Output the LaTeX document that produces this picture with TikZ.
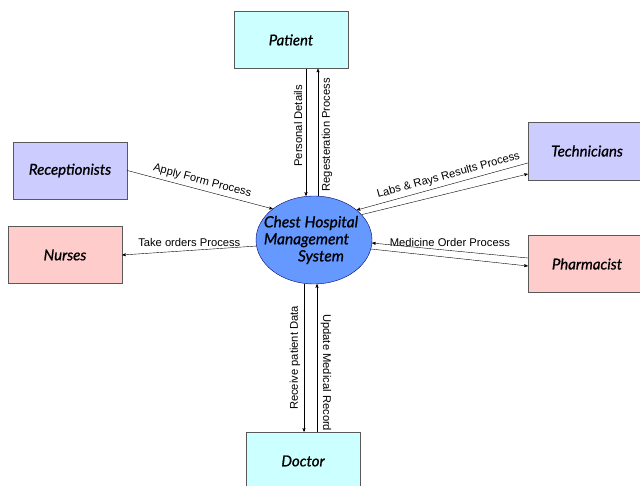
\documentclass[tikz,border=0pt]{standalone}
\usepackage{fontspec}
\setmainfont{Liberation Sans}
\newfontfamily\boxfont{Lato}[FakeBold=0.9]
\usetikzlibrary{arrows, shapes.geometric, shadows}
\definecolor{patientcyan}{HTML}{CCFFFF}
\definecolor{staffblue}{HTML}{CCCCFF}
\definecolor{staffpink}{HTML}{FFCCCC}
\definecolor{systemblue}{HTML}{6699FF}
\tikzset{
->, % every flow is directed
>=stealth', % small pointed heads
line width=0.6pt,
entity/.style={draw=gray!70!black, line width=0.5pt, minimum width=114pt, minimum height=57pt,
  font=\boxfont\itshape\fontsize{15}{17}\selectfont,
  drop shadow={shadow xshift=1pt, shadow yshift=-1pt, opacity=0.35}}, % external entities
system/.style={ellipse, draw=blue!40!black, fill=systemblue, minimum width=116pt, minimum height=88pt, inner sep=0pt}, % the process
flow/.style={font=\fontsize{11.2}{13}\selectfont, inner sep=3.5pt}, % labels on the flows
}

\begin{document}
\begin{tikzpicture}[x=1pt, y=-1pt]
\useasboundingbox (0,0) rectangle (640,486);
\node[entity, fill=patientcyan] (patient) at (291,40) {Patient};
\node[entity, fill=staffblue] (receptionists) at (70,170.5) {Receptionists};
\node[entity, fill=staffpink] (nurses) at (65,255) {Nurses};
\node[entity, fill=staffblue, minimum width=118pt, minimum height=58pt] (technicians) at (587,151) {Technicians};
\node[entity, fill=staffpink, minimum width=118pt] (pharmacist) at (587,264) {Pharmacist};
\node[entity, fill=patientcyan, minimum height=58pt] (doctor) at (303,461) {Doctor};
\node[system, label={[font=\boxfont\itshape\fontsize{15.5}{17}\selectfont, align=left, xshift=-3pt]center:Chest Hospital\\Management\\\hspace*{2.2em}System}] (chms) at (314,240) {};
\draw ([xshift=-8pt]chms.north |- patient.south) -- node[flow, rotate=90, anchor=south, pos=0.45] {Personal Details} ([xshift=-8pt]chms.north);
\draw ([xshift=4pt]chms.north) -- node[flow, rotate=90, anchor=north, pos=0.48] {Regesteration Process} ([xshift=4pt]chms.north |- patient.south);
\draw (receptionists.east) -- node[flow, sloped, above] {Apply Form Process} (chms.143);
\draw (chms.186) -- node[flow, above] {Take orders Process} (nurses.east);
\draw ([yshift=-12pt]technicians.west) -- node[flow, sloped, above, pos=0.45] {Labs \& Rays Results Process} (chms.35);
\draw (chms.28) -- ([yshift=-23pt]technicians.west);
\draw ([yshift=6pt]pharmacist.west) -- node[flow, above] {Medicine Order Process} (chms.-3);
\draw (chms.-9) -- ([yshift=-2pt]pharmacist.west);
\draw ([xshift=-10pt]chms.south) -- node[flow, rotate=90, anchor=south] {Receive patient Data} ([xshift=-10pt]chms.south |- doctor.north);
\draw ([xshift=3pt]chms.south |- doctor.north) -- node[flow, rotate=-90, anchor=south, pos=0.4] {Update Medical Record} ([xshift=3pt]chms.south);
\end{tikzpicture}
\end{document}
